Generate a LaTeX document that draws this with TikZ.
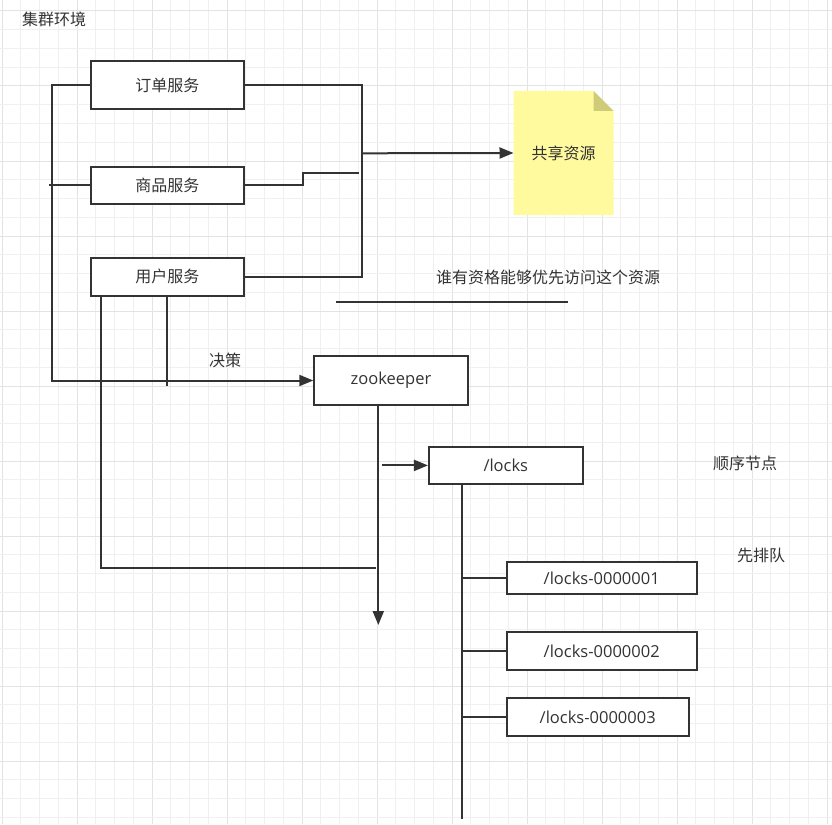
\documentclass[tikz,border=0pt]{standalone}
\usepackage{fontspec}
\setmainfont{Open Sans}
\newfontfamily\cjk{Noto Sans CJK SC}
\usetikzlibrary{arrows.meta}
\definecolor{ink}{HTML}{333333}
\definecolor{gridminor}{HTML}{F0F0F0}
\definecolor{gridmajor}{HTML}{E3E3E3}
\definecolor{noteyellow}{HTML}{FFFA9E}
\definecolor{notefold}{HTML}{CFCB78}
\tikzset{
  box/.style={draw=ink, line width=2pt, fill=white, inner sep=0pt, text=ink, font=\fontsize{16.5}{19}\selectfont},
  cjkbox/.style={box, font=\cjk\fontsize{16}{19}\selectfont},
  lbl/.style={text=ink, inner sep=0pt, font=\cjk\fontsize{16}{19}\selectfont},
  wire/.style={draw=ink, line width=2pt},
  arr/.style={wire, -{Triangle[length=14pt,width=11pt]}},
}
\begin{document}
\begin{tikzpicture}[x=1pt,y=-1pt]
\useasboundingbox (0,0) rectangle (832,824);
\fill[white] (0,0) rectangle (832,824);
% grid
\foreach \k in {0,...,44}{
  \pgfmathsetmacro{\gx}{2+18.75*\k}
  \pgfmathtruncatemacro{\m}{mod(\k,4)}
  \ifnum\m=0
    \draw[gridmajor, line width=1pt] (\gx,0) -- (\gx,824);
  \else
    \draw[gridminor, line width=1pt] (\gx,0) -- (\gx,824);
  \fi
}
\foreach \k in {0,...,44}{
  \pgfmathsetmacro{\gy}{11+18.75*\k}
  \pgfmathtruncatemacro{\m}{mod(\k,4)}
  \ifnum\m=0
    \draw[gridmajor, line width=1pt] (0,\gy) -- (832,\gy);
  \else
    \draw[gridminor, line width=1pt] (0,\gy) -- (832,\gy);
  \fi
}
% labels
\node[lbl] (title) at (54,19.5) {集群环境};
\node[lbl] (q) at (548,277.5) {谁有资格能够优先访问这个资源};
\node[lbl] (jc) at (225,360) {决策};
\node[lbl] (seq) at (745,463.5) {顺序节点};
\node[lbl] (queue) at (761,555.5) {先排队};
% boxes
\node[cjkbox, minimum width=152.6pt, minimum height=48.6pt] (ord) at (167.4,85) {订单服务};
\node[cjkbox, minimum width=152.6pt, minimum height=37.3pt] (goods) at (167.4,185.4) {商品服务};
\node[cjkbox, minimum width=152.6pt, minimum height=38pt] (user) at (167.4,276.7) {用户服务};
\node[box, minimum width=153.4pt, minimum height=49pt] (zk) at (391,380.5) {zookeeper};
\node[box, minimum width=153.7pt, minimum height=37.3pt] (locks) at (505.8,465.4) {/locks};
\node[box, minimum width=190pt, minimum height=32.6pt] (l1) at (601.7,578) {/locks-0000001};
\node[box, minimum width=190pt, minimum height=38.3pt] (l2) at (601.7,650.9) {/locks-0000002};
\node[box, minimum width=182pt, minimum height=38.3pt] (l3) at (597.7,716.9) {/locks-0000003};
% note
\node[inner sep=0pt, minimum width=99.6pt, minimum height=124pt] (note) at (563.5,153) {};
\fill[noteyellow] (note.north west) -- ([xshift=-20pt]note.north east) -- ([yshift=-20pt]note.north east) -- (note.south east) -- (note.south west) -- cycle;
\fill[notefold] ([xshift=-20pt]note.north east) -- ([yshift=-20pt]note.north east) -- ([xshift=-20pt,yshift=-20pt]note.north east) -- cycle;
\node[lbl, text=ink] at (note.center) {共享资源};
% coordinates
\coordinate (busx) at (362.3,0);
\coordinate (busM) at (362.3,153.3);
\coordinate (gEnd) at (359.3,173.3);
\coordinate (uEnd) at (375.7,568.3);
\coordinate (zkEnd) at (378.3,625);
\coordinate (sa) at (381.7,465.4);
\coordinate (trunkEnd) at (462.3,819.3);
\coordinate (ulA) at (336,301.7);
\coordinate (ulB) at (568.3,301.7);
% connectors
\draw[arr] (ord.west) -- ++(-37.7,0) |- (zk.west);
\draw[wire] (goods.west) -- ++(-41,0);
\draw[wire] (ord.east) -- (ord.east -| busx) -- (user.east -| busx) -- (user.east);
\draw[wire] (goods.east) -- ++(58.6,0) |- (gEnd);
\draw[arr] (busM) -- (note.west);
\draw[wire] ([xshift=-66.4pt]user.south) |- (uEnd);
\draw[wire] ([xshift=-0.4pt]user.south) -- ++(0,89.3);
\draw[arr] (zk.south -| zkEnd) -- (zkEnd);
\draw[arr] (sa) -- (locks.west);
\draw[wire] (locks.south -| trunkEnd) -- (trunkEnd);
\draw[wire] (l1.west -| trunkEnd) -- (l1.west);
\draw[wire] (l2.west -| trunkEnd) -- (l2.west);
\draw[wire] (l3.west -| trunkEnd) -- (l3.west);
\draw[wire] (ulA) -- (ulB);
\end{tikzpicture}
\end{document}
